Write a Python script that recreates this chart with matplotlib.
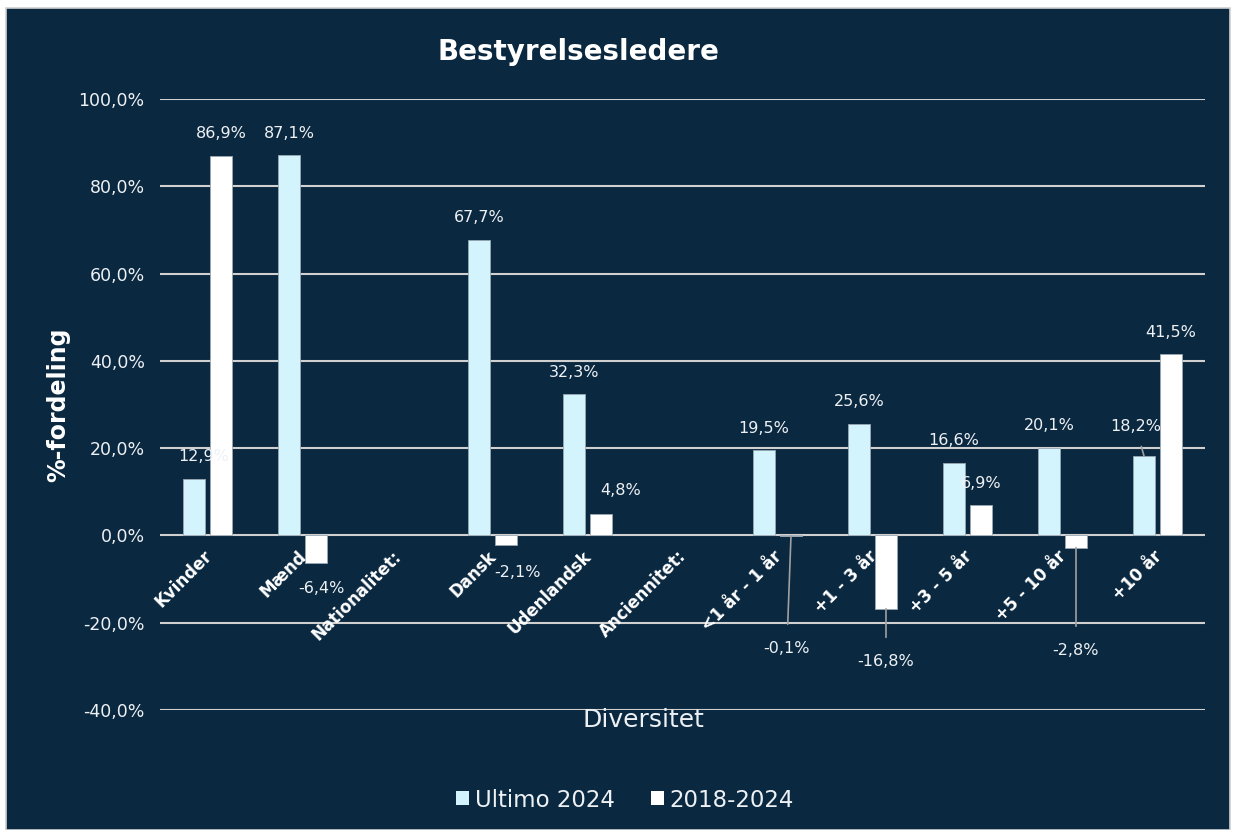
import numpy as np
import matplotlib
matplotlib.use("Agg")
import matplotlib.pyplot as plt
from matplotlib.patches import Rectangle

plt.rcParams["font.family"] = ["DejaVu Sans"]

# data
categories = ["Kvinder", "Mænd", "Nationalitet:", "Dansk", "Udenlandsk", "Anciennitet:",
              "<1 år - 1 år", "+1 - 3 år", "+3 - 5 år", "+5 - 10 år", "+10 år"]
ultimo_2024 = [12.9, 87.1, np.nan, 67.7, 32.3, np.nan, 19.5, 25.6, 16.6, 20.1, 18.2]
change_2018_2024 = [86.9, -6.4, np.nan, -2.1, 4.8, np.nan, -0.1, -16.8, 6.9, -2.8, 41.5]
series_names = ["Ultimo 2024", "2018-2024"]
yticks = [-40, -20, 0, 20, 40, 60, 80, 100]

BG = "#0a2840"
LIGHT = "#d3f3fd"
TXT = "#eef1f4"
GRID = "#d0d0d0"

fig = plt.figure(figsize=(12.33, 8.3), dpi=100)
fig.patch.set_facecolor("white")
fig.patches.append(Rectangle((6 / 1233, 0), 1224 / 1233, 822 / 830, transform=fig.transFigure,
                             facecolor=BG, edgecolor="#cfcfcf", linewidth=1.2, zorder=-10))

ax = fig.add_axes([160 / 1233, 1 - 710 / 830, 1045 / 1233, 611 / 830])
ax.set_facecolor("none")
x = np.arange(len(categories))
w = 0.23
off = 0.142
b1 = ax.bar(x - off, ultimo_2024, w, color=LIGHT, edgecolor="#9aa8b4", linewidth=0.6, zorder=3,
            label=series_names[0])
b2 = ax.bar(x + off, change_2018_2024, w, color="white", edgecolor="#9aa8b4", linewidth=0.6, zorder=3,
            label=series_names[1])

ax.set_xlim(-0.5, len(categories) - 0.5)
ax.set_ylim(-40, 100)
ax.set_yticks(yticks)
ax.set_yticklabels([f"{v:.1f}%".replace(".", ",") for v in yticks], color=TXT, fontsize=12.5)
ax.tick_params(axis="y", length=0, pad=11)
ax.set_xticks([])
for s in ax.spines.values():
    s.set_visible(False)
for v in yticks:
    ax.axhline(v, color=GRID, linewidth=1.5, zorder=1)

# category labels next to zero line
for i, c in enumerate(categories):
    ax.annotate(c, (i, 0), xytext=(1, -13), textcoords="offset points", rotation=45,
                rotation_mode="anchor", ha="right", va="center", color="white",
                fontsize=12, fontweight="bold", zorder=4)

def fmt(v):
    return f"{v:.1f}%".replace(".", ",")

# data labels: (dx, dy) offsets in points, leader line flag
label_style1 = {0: (7, 16, False), 10: (-6, 21, True)}
label_style2 = {1: (4, -18, False), 3: (8, -20, False), 4: (14, 17, False), 6: (-3, -81, True),
                7: (0, -38, True), 9: (0, -74, True)}
for i, v in enumerate(ultimo_2024):
    if np.isnan(v):
        continue
    dx, dy, lead = label_style1.get(i, (0, 16, False))
    ax.annotate(fmt(v), (i - off, v), xytext=(dx, dy), textcoords="offset points",
                ha="center", va="center", color=TXT, fontsize=11.5, zorder=5,
                arrowprops=dict(arrowstyle="-", color="#a0a0a0", lw=1.2, shrinkA=7, shrinkB=0) if lead else None)
for i, v in enumerate(change_2018_2024):
    if np.isnan(v):
        continue
    dx, dy, lead = label_style2.get(i, (0, 16 if v >= 0 else -16, False))
    ax.annotate(fmt(v), (i + off, v), xytext=(dx, dy), textcoords="offset points",
                ha="center", va="center", color=TXT, fontsize=11.5, zorder=5,
                arrowprops=dict(arrowstyle="-", color="#a0a0a0", lw=1.2, shrinkA=10, shrinkB=0) if lead else None)

fig.text(578 / 1233, 1 - 52 / 830, "Bestyrelsesledere", ha="center", va="center",
         color="white", fontsize=20, fontweight="bold")
fig.text(58 / 1233, 1 - 405 / 830, "%-fordeling", ha="center", va="center", rotation=90,
         color="white", fontsize=17, fontweight="bold")
fig.text(643 / 1233, 1 - 720 / 830, "Diversitet", ha="center", va="center",
         color=TXT, fontsize=18)

leg = fig.legend(handles=[b1, b2], loc="center", bbox_to_anchor=(625 / 1233, 1 - 800 / 830),
                 ncol=2, frameon=False, fontsize=16.5, labelcolor=TXT, handlelength=0.55,
                 handleheight=0.55, handletextpad=0.25, columnspacing=1.6)
for h in leg.legend_handles:
    h.set_edgecolor("none")

fig.savefig("out.png", dpi=100, facecolor=fig.get_facecolor())
